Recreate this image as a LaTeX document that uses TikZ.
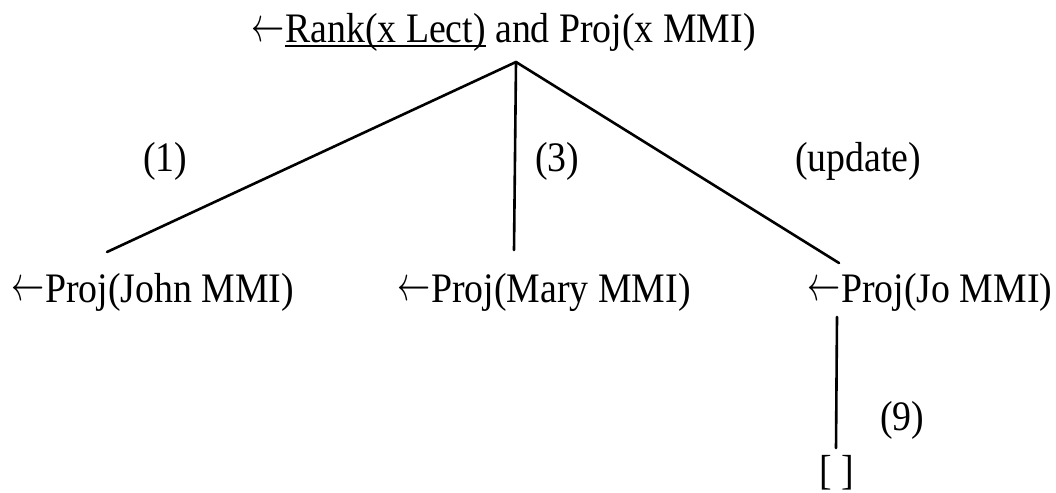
\documentclass[tikz,border=0pt]{standalone}
\usepackage{graphicx}
\usepackage{fontspec}
\setmainfont[FakeStretch=0.9]{Liberation Serif}
% underline drawn as a rule that sits just under the baseline
\newcommand\ulbar[1]{\setbox0\hbox{#1}\rlap{\rule[-4.5pt]{\wd0}{2pt}}\box0\relax}
% goal arrow in front of each goal
\newcommand\garrow{\raisebox{1.6pt}{\scalebox{1.33}[2]{$\leftarrow$}}\kern1pt}
\begin{document}
\begin{tikzpicture}[x=1pt,y=-1pt,
  goal/.style={anchor=base west,inner sep=0pt,font=\fontsize{42}{50}\selectfont},
  tag/.style={anchor=base west,inner sep=0pt,font=\fontsize{42}{50}\selectfont},
  edge/.style={line width=2.6pt,line cap=round}]
\path[use as bounding box] (0,0) rectangle (1056,492);

% goals
\node[goal] (top)  at (251,43)  {\garrow\ulbar{Rank(x Lect)} and Proj(x MMI)};
\node[goal] (john) at (11,302)  {\garrow Proj(John MMI)};
\node[goal] (mary) at (397,302) {\garrow Proj(Mary MMI)};
\node[goal] (jo)   at (807,302) {\garrow Proj(Jo MMI)};
\node[goal] (done) at (819,484) {[ ]};

% branch labels
\node[tag] (l1) at (143,171) {(1)};
\node[tag] (l3) at (535,171) {(3)};
\node[tag] (lu) at (795,171) {(update)};
\node[tag] (l9) at (880,430) {(9)};

% connector end points
\coordinate (apex) at (516,62);
\coordinate (johnin) at (107,252);
\coordinate (maryin) at (514,250);
\coordinate (join) at (839,263);
\coordinate (joout) at (837,317);
\coordinate (donein) at (836,448);

\draw[edge] (apex) -- (johnin);
\draw[edge] (apex) -- (maryin);
\draw[edge] (apex) -- (join);
\draw[edge] (joout) -- (donein);
\end{tikzpicture}
\end{document}
